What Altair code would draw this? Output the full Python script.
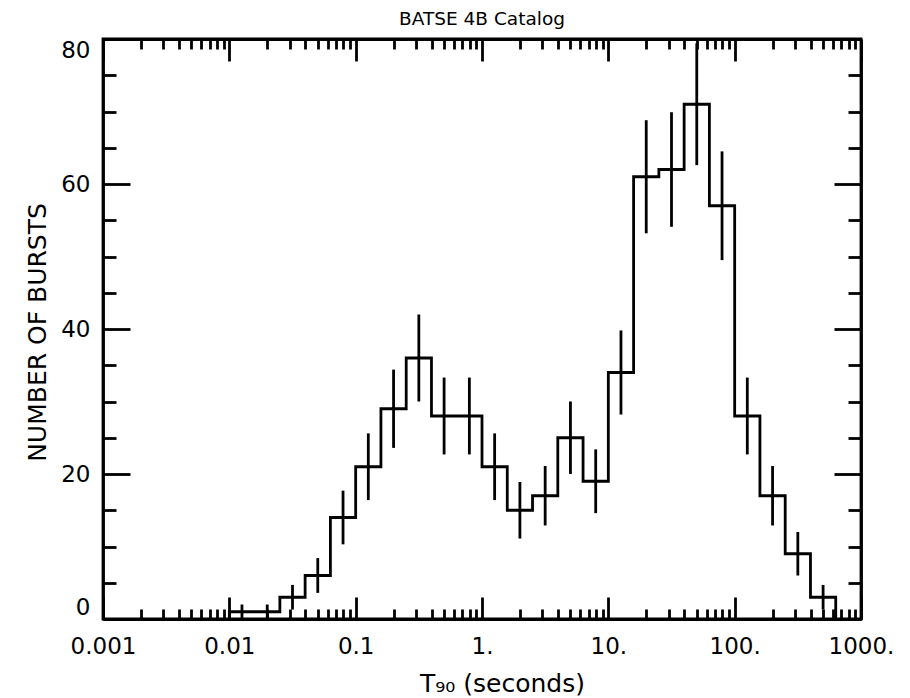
import altair as alt
import pandas as pd

# ---- text ----
title_text = "BATSE 4B Catalog"
x_title = "T₉₀ (seconds)"
y_title = "NUMBER OF BURSTS"

# ---- data ----
# lower edge of each bin, in log10(T90 / s); bins are 0.2 decade wide
log_lo = [-2.0, -1.8, -1.6, -1.4, -1.2, -1.0, -0.8, -0.6, -0.4, -0.2,
          0.0, 0.2, 0.4, 0.6, 0.8, 1.0, 1.2, 1.4, 1.6, 1.8,
          2.0, 2.2, 2.4, 2.6]
counts = [1, 1, 3, 6, 14, 21, 29, 36, 28, 28,
          21, 15, 17, 25, 19, 34, 61, 62, 71, 57,
          28, 17, 9, 3]
errors = [1.0, 1.0, 1.7, 2.4, 3.7, 4.6, 5.4, 6.0, 5.3, 5.3,
          4.6, 3.9, 4.1, 5.0, 4.4, 5.8, 7.8, 7.9, 8.4, 7.5,
          5.3, 4.1, 3.0, 1.7]
bin_width = 0.2

# ---- ticks ----
x_major = [0.001, 0.01, 0.1, 1, 10, 100, 1000]
x_minor = [k * 10.0 ** d for d in range(-3, 3) for k in range(2, 10)]
y_major = [0, 20, 40, 60, 80]
y_minor = [5, 10, 15, 25, 30, 35, 45, 50, 55, 65, 70, 75]

W, H = 758, 580
FONT = "DejaVu Sans"
LW = 2.8

# ---- tables ----
step_rows = [{"i": 0, "x": 10 ** log_lo[0], "y": 0}]
for j, (lo, c) in enumerate(zip(log_lo, counts)):
    step_rows.append({"i": j + 1, "x": 10 ** lo, "y": c})
step_rows.append({"i": len(log_lo) + 1, "x": 10 ** (log_lo[-1] + bin_width), "y": 0})
step_df = pd.DataFrame(step_rows)

err_df = pd.DataFrame({
    "x": [10 ** (lo + bin_width / 2) for lo in log_lo],
    "lo": [max(c - e, 0) for c, e in zip(counts, errors)],
    "hi": [c + e for c, e in zip(counts, errors)],
})

xs = alt.Scale(type="log", domain=[0.001, 1000], nice=False)
ys = alt.Scale(domain=[0, 80], nice=False, zero=False)


def tick_axis(orient, offset, values, size, domain=False):
    kw = {}
    if domain:
        kw = dict(domainColor="black", domainWidth=LW)
    return alt.Axis(orient=orient, offset=offset, values=values, tickSize=size,
                    tickWidth=LW, tickColor="black", ticks=True, labels=False,
                    domain=domain, grid=False, title=None, **kw)


x_label_axis = alt.Axis(
    orient="bottom", values=x_major, ticks=False, tickSize=0, domain=False, grid=False,
    labelExpr="datum.value < 1 ? toString(datum.value) : toString(datum.value) + '.'",
    labelFont=FONT, labelFontSize=23, labelColor="black", labelPadding=16,
    labelFlush=False, labelOverlap=False,
    title=x_title, titleFont=FONT, titleFontSize=25, titleFontWeight="normal",
    titleColor="black", titleX=399, titleY=64, titleAlign="center", titleBaseline="middle",
)
y_label_axis = alt.Axis(
    orient="left", values=y_major, ticks=False, tickSize=0, domain=False, grid=False,
    format="d", labelFont=FONT, labelFontSize=23, labelColor="black", labelPadding=13,
    labelFlush=True, labelFlushOffset=0, labelOverlap=False,
    title=y_title, titleFont=FONT, titleFontSize=25, titleFontWeight="normal",
    titleColor="black", titleX=-66, titleY=293, titleAngle=270,
    titleAlign="center", titleBaseline="middle",
)

line = alt.Chart(step_df).mark_line(interpolate="step-after", color="black",
                                    strokeWidth=LW).encode(
    x=alt.X("x:Q", scale=xs, axis=x_label_axis),
    y=alt.Y("y:Q", scale=ys, axis=y_label_axis),
    order="i:Q",
)

bars = alt.Chart(err_df).mark_rule(color="black", strokeWidth=LW).encode(
    x=alt.X("x:Q", scale=xs, axis=tick_axis("top", -H, x_major, 22, True)),
    y=alt.Y("lo:Q", scale=ys, axis=tick_axis("right", -W, y_major, 27, True)),
    y2="hi:Q",
)


def ghost(xaxis, yaxis):
    return alt.Chart(err_df).mark_rule(color="black", opacity=0).encode(
        x=alt.X("x:Q", scale=xs, axis=xaxis),
        y=alt.Y("lo:Q", scale=ys, axis=yaxis),
        y2="hi:Q",
    )


g1 = ghost(tick_axis("top", -H, x_minor, 10), tick_axis("right", -W, y_minor, 13))
g2 = ghost(tick_axis("bottom", -H, x_major, 22, True), tick_axis("left", -W, y_major, 27, True))
g3 = ghost(tick_axis("bottom", -H, x_minor, 10), tick_axis("left", -W, y_minor, 13))

chart = alt.layer(line, bars, g1, g2, g3).resolve_axis(
    x="independent", y="independent"
).properties(
    width=W, height=H,
    background="white",
    autosize=alt.AutoSizeParams(type="none"),
    padding={"left": 95, "top": 31, "right": 41, "bottom": 80},
    title=alt.TitleParams(title_text, font=FONT, fontSize=18.5, fontWeight="normal",
                          color="black", anchor="middle", offset=9),
).configure_view(
    stroke="black", strokeWidth=LW
)

chart.save("out.html", embed_options={"renderer": "svg", "actions": False})
